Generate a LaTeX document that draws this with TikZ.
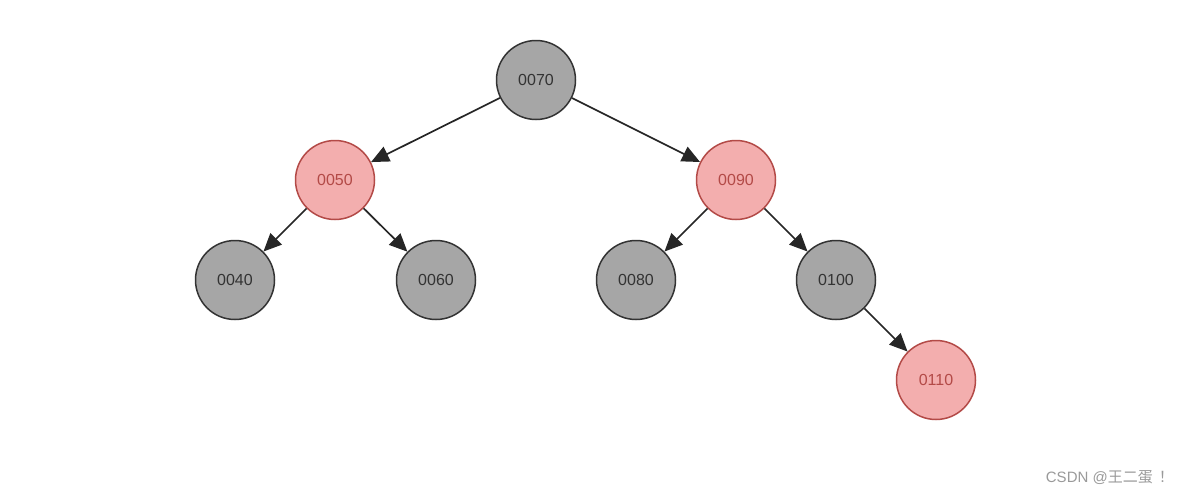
\documentclass[tikz,border=0pt]{standalone}
\usepackage{fontspec}
\setmainfont{Liberation Sans}
\newfontfamily\cjk{Noto Sans CJK SC}
\usetikzlibrary{arrows.meta}
\definecolor{greyfill}{HTML}{A6A6A6}
\definecolor{greyline}{HTML}{333333}
\definecolor{redfill}{HTML}{F3AEAE}
\definecolor{redline}{HTML}{B34A47}
\definecolor{wm}{HTML}{9A9A9A}
\tikzset{
  blk/.style={circle, draw=greyline, fill=greyfill, line width=1.5pt, minimum size=79pt, inner sep=0pt, text=greyline, font=\fontsize{16}{16}\selectfont},
  rednode/.style={circle, draw=redline, fill=redfill, line width=1.5pt, minimum size=79pt, inner sep=0pt, text=redline, font=\fontsize{16}{16}\selectfont},
  edge/.style={draw=black!85, line width=1.7pt, -{Triangle[length=18pt,width=16pt]}}
}
\begin{document}
\begin{tikzpicture}[x=1pt,y=-1pt]
\useasboundingbox[fill=white] (0,0) rectangle (1186,496);
\node[blk] (n70) at (536,80) {0070};
\node[rednode] (n50) at (335,180) {0050};
\node[rednode] (n90) at (736,180) {0090};
\node[blk] (n40) at (235,280) {0040};
\node[blk] (n60) at (436,280) {0060};
\node[blk] (n80) at (636,280) {0080};
\node[blk] (n100) at (836,280) {0100};
\node[rednode] (n110) at (936,380) {0110};
\draw[edge] (n70) -- (n50);
\draw[edge] (n70) -- (n90);
\draw[edge] (n50) -- (n40);
\draw[edge] (n50) -- (n60);
\draw[edge] (n90) -- (n80);
\draw[edge] (n90) -- (n100);
\draw[edge] (n100) -- (n110);
\node[text=wm, font=\fontsize{15}{15}\selectfont, anchor=east, inner sep=0pt] (wmk) at (1174,478) {CSDN @{\cjk 王二蛋\hspace{0.4em}！}};
\end{tikzpicture}
\end{document}
